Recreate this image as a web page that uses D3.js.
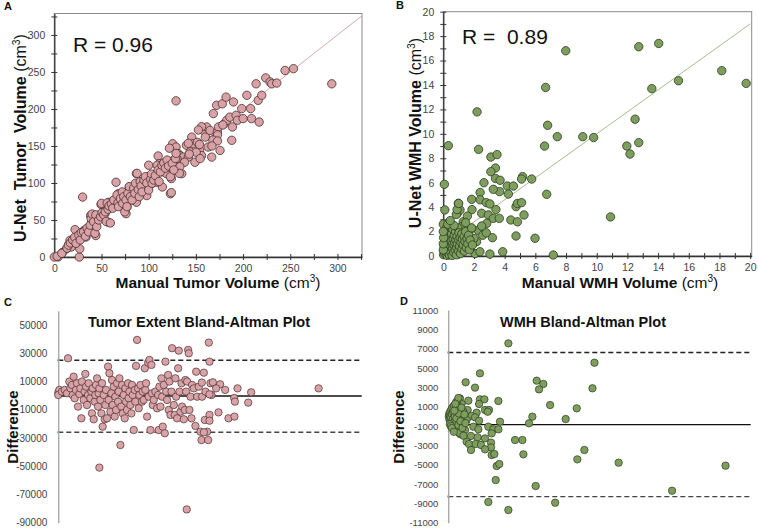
<!DOCTYPE html>
<html>
<head>
<meta charset="utf-8">
<script src="https://cdn.jsdelivr.net/npm/d3@7"></script>
<style>
  body { margin: 0; background: #fff; }
  svg { font-family: "Liberation Sans", Arial, sans-serif; }
</style>
</head>
<body>
<svg id="fig" width="758" height="528"></svg>
<script>
// ---- Panel A: manual vs U-Net tumor volume (cm3) ----
const tumorScatter = [
  [0,0],[4,0],[8.5,6],[13,11],[15,16],[16.6,22.5],[18,13.5],[21,20],[22,37],[23.7,22.5],[26.5,0],[27,11],[30,81],[29,29],
  [31.5,36],[33.5,27],[36,37],[38.5,56],[39.6,47],[41,36],[44,29],[45,50],[47.7,54],[49.5,71],[53.7,58.5],[55.5,71],[57,47],
  [58,74],[62.5,67.5],[65.4,101],[67,76.5],[68,85.5],[71,79],[74,85.5],[76,58.5],[77,67.5],[78,76.5],[79.5,94.6],[82,88],
  [83.7,76.5],[86.6,83],[87,112.6],[87,74],[90,97],[91,88],[93.6,99],[96,90],[98,83],[98,108],[99.6,94.6],[103,99],[104,106],
  [108.5,101],[110,136.5],[111,126],[114,115],[114.5,94.6],[117,124],[119,112.6],[121,121.6],[123,85.5],[124,106],[125.4,153],
  [126,130.6],[129,211],[129,148.6],[129.7,117],[131.4,139.6],[133,137],[135,112.6],[136.7,135],[140,151],[142,135],[143.8,142],
  [145.6,162],[147,153],[149,128],[151.6,155],[154,144],[156,137],[158,171],[160,162],[161.5,175.7],[163,148.6],[165,171],
  [166.8,135],[168.5,193.7],[170,160],[172,205],[172.8,169],[174,175.7],[175.6,144],[178,207],[180,180],[182,216],[182.7,184.7],
  [186,189],[188,157.7],[188.7,175.7],[189.8,209.5],[192.6,191.4],[194,184.7],[198.6,200.5],[200,187],[204,218.5],[208,200.5],
  [209,187],[213.8,234],[216,211.7],[217,182.4],[219.8,218.5],[224,242],[228.6,236.5],[230.4,234],[235.7,235],[244.5,252],
  [253.4,254.5],[294,234],
  [178.6,178.4],[172.9,165],[156,176],[152.7,171.6],[142,153.6],[153.8,152],[168,158],[172.9,156.8],[167,150],[150.3,141.5],
  [122,147],[143,139],[138,128],[154.5,133],[119,127],[130,133],[126,120],[133,122],[132.6,113],[100,124],
  [3,1],[8,5],[13.5,12],[15,16],[17,19],[19.5,23],[21.6,26.6],[23,18.5],[26,30],[27.5,23],[28.6,33],[31,34],[33,28],
  [34.7,39],[36.4,34],[38,43],[39,52],[40,58],[41.7,47.7],[43,32],[44,57],[45,41],[47,50],[49,54.5],[50,72.5],[50.6,60],
  [52.4,57],[54,61],[55,48],[56,73],[57,64.5],[58,69],[59.4,46],[60.5,71.6],[62,66],[63,77],[66.5,84],[67.5,73],[68,68],
  [70,79],[72,88],[72.5,72.5],[73.6,81.5],[74.7,61],[76,77],[77,68],[78,86],[79.5,95],[80.6,81.5],[82.4,77],[84,93],
  [85.3,86],[86,99.6],[87.7,113],[89,91],[90,81.5],[91,102],[92,96],[93,88],[95,104],[96.5,108.5],[98,100],[100,90.5],
  [102,105],[103,112],[103.6,99.6],[105.4,104],[107,110],[109,124],[110,117.6],[111,102],[112.4,115],[114,124],[116,127],
  [117.7,120],[119.5,131],[121,123],[123,108.5],[124,87],[125,126.6],[126.6,117.6],[128.3,133],[129,140]
];

// ---- Panel B: manual vs U-Net WMH volume (cm3) ----
const wmhScatter = [
  [0.07,5.87],[0.1,3.77],[0.33,9.03],[0.0,2.6],[2.2,11.8],[2.3,8.73],[3.1,8.1],[3.5,8.3],[3.4,7.2],[3.1,6.9],[2.65,6.0],
  [3.4,6.35],[3.7,6.2],[3.67,5.27],[3.26,5.46],[2.4,5.2],[4.17,5.73],[4.57,5.73],[4.24,5.07],[5.17,6.5],[5.1,6.3],[5.76,6.3],
  [1.85,4.64],[2.4,4.6],[2.8,4.37],[3.04,4.26],[1.87,3.8],[2.5,3.5],[2.93,3.36],[3.43,3.8],[3.26,3.08],[3.65,3.08],[4.4,2.95],
  [4.74,4.04],[4.83,4.3],[5.1,4.37],[5.26,3.36],[4.83,2.8],[4.74,1.64],[5.98,1.45],[6.74,5.05],[6.67,13.8],[6.6,9.0],[6.8,10.7],
  [7.43,9.77],[7.98,16.8],[7.17,0.08],[9.09,9.77],[9.8,9.7],[10.9,3.2],[11.96,9.0],[12.17,8.35],[12.5,11.2],[12.74,9.28],
  [12.74,17.13],[13.59,13.7],[14.04,17.4],[15.33,14.35],[18.15,15.17],[19.74,14.13],[3.87,0.35],[3.04,0.16],[3.2,1.5],
  [2.17,1.17],[2.07,0.2],[2.39,0.35],[2.28,2.1],[2.57,1.7],[2.8,1.9],[1.85,2.26],[2.0,1.45],[1.74,0.55],[2.83,2.67],[2.5,2.45],
  [1.57,1.36],[1.41,0.76],[1.3,2.8],[1.2,2.4],[1.09,2.0],[0.91,0.22],[0.98,4.31],[0.91,3.49],[1.09,3.77],[1.57,3.27],[1.46,2.73],
  [0.02,0.1],[0.05,0.4],[0.05,0.8],[0.08,1.2],[0.1,0.2],[0.1,1.6],[0.12,0.6],[0.15,1.0],[0.15,1.9],[0.18,0.3],[0.2,0.8],
  [0.2,1.4],[0.22,2.3],[0.25,0.05],[0.25,0.5],[0.28,1.1],[0.3,1.7],[0.3,0.25],[0.33,0.8],[0.35,1.3],[0.38,2.0],[0.4,0.1],
  [0.4,0.55],[0.42,1.0],[0.45,1.5],[0.48,2.4],[0.5,0.3],[0.5,0.8],[0.52,1.2],[0.55,1.8],[0.58,0.05],[0.6,0.6],[0.6,1.0],
  [0.62,2.2],[0.65,1.4],[0.68,0.3],[0.7,0.85],[0.72,1.7],[0.75,1.1],[0.78,0.5],[0.8,2.0],[0.82,1.3],[0.85,0.1],[0.88,0.7],
  [0.9,1.6],[0.92,1.0],[0.95,2.3],[1.0,0.4],[1.0,1.3],[1.02,1.9],[1.05,0.8],[1.1,1.5],[1.12,0.2],[1.15,1.1],[1.2,1.8],
  [1.22,0.6],[1.25,1.35],[1.3,0.9],[1.35,1.6],[1.38,0.4],[1.42,1.2],[1.45,2.0],[1.5,0.7],[1.55,1.4],[1.6,1.0],[1.65,1.7],
  [1.7,0.5],[1.75,1.3],[0.3,2.6],[0.7,2.5],[0.0,0.5],[0.0,1.0],[0.02,1.5],[0.0,2.0],[1.85,2.3],[1.9,0.9],[0.85,3.4],
  [0.9,3.8],[1.0,4.3],[0.45,2.9]
];
const wmhFitSlope = 0.9;
const wmhFitIntercept = 1.0;

// ---- Panel C: tumor Bland-Altman (mean in cm3, difference in mm3) ----
const tumorDiff = [
  [0,2100],[1,4000],[0,400],[3.6,2800],[6.3,4000],[8.6,1600],[9.6,26400],[10.9,9900],[11.9,5100],[13.5,7500],[14.2,400],
  [15.2,13400],[16.2,-1900],[17.5,4000],[18.5,8700],[19.5,-7800],[20.8,1100],[21.8,5100],[22.8,-16100],[23.4,9900],
  [25.1,-3100],[26.1,2800],[26.7,15300],[27.4,6300],[28.4,-6700],[29.4,400],[30,8700],[31.7,-1900],[32.7,2800],[33.3,-12600],
  [34,5100],[35,-16800],[36,-4300],[36.6,400],[37.3,7500],[38.3,12200],[39.3,-7800],[39.9,1600],[40.6,5100],[41.6,-3100],
  [42.6,-12600],[43.2,8700],[43.9,-22000],[44.9,400],[45.9,-16800],[46.5,-6700],[47.2,4000],[48.2,-16100],[49.2,20500],
  [49.8,-3100],[50.5,15800],[51.5,-11400],[52.5,1600],[53.1,11000],[53.8,-6700],[54.8,6300],[55.8,-14900],[56.4,-800],
  [57.1,-10200],[58.1,8700],[59.1,-4300],[59.7,2800],[60.4,12200],[61.4,-35000],[62.4,-7800],[63,7500],[63.7,-12600],
  [64.7,400],[65.7,-16100],[66.3,5100],[67,-4300],[68,-10200],[69,8700],[69.6,-1900],[70.3,2800],[71.3,-6700],[72.3,-12600],
  [72.9,7500],[73.6,400],[74.6,-24400],[75.6,4000],[76.2,-4300],[76.9,21000],[77.9,39400],[78.9,5100],[79.5,-9000],
  [80.2,400],[81.2,7500],[82.8,-4300],[83.5,2800],[84.5,-3100],[85.5,19300],[86.1,4000],[86.8,8700],[87.8,-14900],
  [88.8,23300],[89.4,-800],[90.1,25200],[91.1,-24400],[92.1,21700],[92.7,1600],[93.4,-6700],[94.4,-3100],[96,2800],
  [97.7,-9000],[98.7,400],[99.3,-24400],[100,6300],[101,-7800],[102,12200],[102.6,-800],[103.3,-22000],[104.3,7500],
  [105.3,-26700],[105.9,24000],[106.6,2800],[107.6,-3100],[108.6,14600],[109.2,-10200],[109.9,9900],[110.9,-13700],
  [111.9,2800],[112.5,33500],[114.2,-6700],[115.2,-13700],[115.8,12200],[116.5,-800],[117.5,-16100],[118.5,19300],
  [119.1,31800],[119.8,2800],[120.8,-11400],[121.8,8700],[122.4,-7800],[124.1,-16800],[125.1,-10200],[125.7,11000],
  [126.4,2800],[127.4,9900],[128.4,32300],[129,29900],[129.7,-10200],[130.7,-800],[131.7,-16100],[132.3,7500],[134,5100],
  [135.6,-21500],[136.3,16900],[137.3,-800],[138.9,6300],[140.6,-25600],[141.6,-31500],[142.2,-800],[143.9,16200],
  [144.9,-17300],[145.5,2800],[147.2,-25600],[148.2,-31500],[148.8,37500],[149.5,-13700],[150.5,8700],[151.5,400],
  [40.6,-51000],[127,-80600],[149.5,24000],[141.9,9200],[152.8,9400],[160,8000],[156,5100],[165,4000],[149.5,900],
  [177.2,5100],[190.7,2300],[173.9,-1700],[174.6,-4300],[187.8,-5000],[158.4,-11900],[149.5,-17800],[168.3,-16100],
  [174.2,-14900],[144,-26000],[257.4,5100]
];
const tumorMean = -300;
const tumorUpper = 25000;
const tumorLower = -26000;
const tumorDiffTicks = [50000, 30000, 10000, -10000, -30000, -50000, -70000, -90000];

// ---- Panel D: WMH Bland-Altman ----
const wmhDiff = [
  [5.96,7550],[3.14,4450],[1.72,3520],[2.65,2970],[8.77,3690],[9.43,3350],[9.0,2790],[10.1,1170],[1.16,1860],[0.99,1690],
  [1.99,1620],[3.14,1760],[3.58,1760],[4.97,1590],[1.32,1280],[0.66,1170],[3.05,1280],[3.64,660],[4.04,660],[3.91,480],
  [2.81,380],[1.92,660],[1.49,480],[0.33,660],[0.93,310],[2.32,40],[2.65,-100],[1.82,-380],[1.26,-310],[3.05,-450],
  [5.13,-550],[8.34,-30],[8.01,-720],[11.65,-280],[3.97,-1070],[4.47,-1340],[4.97,-1340],[2.48,-1070],[1.66,-1410],
  [1.06,-1410],[0.66,-1070],[1.16,-1830],[2.98,-1340],[4.3,-1760],[2.25,-2030],[2.91,-2170],[3.64,-2280],[6.62,-2450],
  [7.35,-2450],[1.82,-2620],[2.05,-2860],[2.71,-2860],[3.24,-2960],[4.24,-2720],[4.24,-3210],[3.64,-3410],[2.25,-3480],
  [4.3,-4000],[4.57,-3900],[7.45,-3930],[4.8,-5140],[5.06,-4930],[4.7,-6590],[8.67,-7210],[3.97,-8860],[10.6,-8930],
  [5.96,-9690],[14.5,5550],[14.3,2900],[12.74,830],[12.8,-4450],[13.5,-3480],[16.9,-4790],[22.2,-7690],[27.5,-5100],
  [0.05,0],[0.1,300],[0.1,-300],[0.15,100],[0.2,500],[0.2,-500],[0.25,-100],[0.3,700],[0.3,-700],[0.35,200],[0.4,-900],
  [0.4,900],[0.45,-300],[0.5,400],[0.5,-1100],[0.55,1100],[0.6,-600],[0.65,0],[0.7,-1300],[0.75,700],[0.8,-200],
  [0.85,-1500],[0.9,1200],[1.0,-900],[1.05,300],[1.1,-1700],[1.2,-500],[1.3,900],[1.4,-1200],[1.5,-2000],[1.6,200],
  [1.7,-700],[0.15,-800],[0.25,-1000],[0.35,-1200],[0.55,-1600],[0.6,600],[0.8,1500],[1.0,1900],[0.7,1300]
];
const wmhMean = -850;
const wmhUpper = 6600;
const wmhLower = -8300;
const wmhDiffTicks = [11000, 9000, 7000, 5000, 3000, 1000, -1000, -3000, -5000, -7000, -9000, -11000];

const svg = d3.select('#fig');

const pink = { fill: '#d9a2a6', stroke: '#4a2f30' };
const green = { fill: '#7e9e5e', stroke: '#2c3b1f' };

// Writes "(cm3)" with a raised 3 after a bold label
function unitLabel(text, boldPart) {
  text.append('tspan').attr('font-weight', 'bold').text(boldPart);
  text.append('tspan').attr('font-weight', 'normal').text(' (cm');
  text.append('tspan').attr('font-weight', 'normal').attr('font-size', '0.65em').attr('dy', '-0.55em').text('3');
  text.append('tspan').attr('font-weight', 'normal').attr('dy', '0.36em').text(')');
}

function scatterPanel(cfg) {
  const x = d3.scaleLinear().domain(cfg.xDomain).range([cfg.left, cfg.right]);
  const y = d3.scaleLinear().domain(cfg.yDomain).range([cfg.bottom, cfg.top]);
  const g = svg.append('g');

  // Frame (top / right sides are lighter)
  g.append('rect')
    .attr('x', cfg.left).attr('y', cfg.top)
    .attr('width', cfg.right - cfg.left).attr('height', cfg.bottom - cfg.top)
    .attr('fill', 'none').attr('stroke', '#8a8a8a').attr('stroke-width', 1);

  // Fit / identity line
  g.append('line')
    .attr('x1', x(cfg.fitFrom)).attr('y1', y(cfg.slope * cfg.fitFrom + cfg.intercept))
    .attr('x2', x(cfg.fitTo)).attr('y2', y(cfg.slope * cfg.fitTo + cfg.intercept))
    .attr('stroke', cfg.lineColor).attr('stroke-width', 1);

  // Axes
  const xAxis = g.append('g')
    .attr('transform', `translate(0,${cfg.bottom})`)
    .call(d3.axisBottom(x).tickValues(cfg.xTicks)
      .tickFormat(d => (Math.round(d / cfg.xLabelStep * 1000) % 1000 === 0 ? d : ''))
      .tickSizeOuter(0).tickSizeInner(3).tickPadding(5));
  const yAxis = g.append('g')
    .attr('transform', `translate(${cfg.left},0)`)
    .call(d3.axisLeft(y).tickValues(cfg.yTicks)
      .tickFormat(d => (Math.round(d / cfg.yLabelStep * 1000) % 1000 === 0 ? d : ''))
      .tickSizeOuter(0).tickSizeInner(3).tickPadding(cfg.yPad));

  [xAxis, yAxis].forEach(ax => {
    ax.attr('font-family', null).attr('font-size', null);
    ax.select('.domain').attr('stroke', '#333').attr('stroke-width', 1.3);
    ax.selectAll('.tick line').attr('stroke', '#333');
    ax.selectAll('.tick text').attr('font-size', 10.5).attr('fill', '#444');
  });
  xAxis.selectAll('.tick line').attr('y1', -3).attr('y2', 3);
  yAxis.selectAll('.tick line').attr('x1', -3).attr('x2', 3);

  // Points
  g.selectAll('circle.pt')
    .data(cfg.data)
    .join('circle')
    .attr('class', 'pt')
    .attr('cx', d => x(d[0]))
    .attr('cy', d => y(d[1]))
    .attr('r', 4.2)
    .attr('fill', cfg.color.fill)
    .attr('stroke', cfg.color.stroke)
    .attr('stroke-width', 0.8);

  // Axis titles
  const xt = g.append('text')
    .attr('x', cfg.xTitleX).attr('y', 288)
    .attr('text-anchor', 'middle').attr('font-size', 15.5).attr('fill', '#111');
  unitLabel(xt, cfg.xTitle);

  const yt = g.append('text')
    .attr('transform', `translate(${cfg.yTitleX},${cfg.yTitleY}) rotate(-90)`)
    .attr('text-anchor', 'middle').attr('font-size', 16).attr('fill', '#111')
    .style('white-space', 'pre');
  unitLabel(yt, cfg.yTitle);

  // Correlation label
  g.append('text')
    .attr('x', cfg.rX).attr('y', cfg.rY)
    .attr('font-size', 21).attr('fill', '#111')
    .style('white-space', 'pre')
    .text(cfg.rText);
}

function blandAltmanPanel(cfg) {
  const x = d3.scaleLinear().domain(cfg.xDomain).range([cfg.left, cfg.right]);
  const y = d3.scaleLinear().domain(cfg.yDomain).range([cfg.bottom, cfg.top]);
  const g = svg.append('g');

  // Plain hyphen-minus labels, no thousands separators
  const yAxis = g.append('g')
    .attr('transform', `translate(${cfg.left},0)`)
    .call(d3.axisLeft(y).tickValues(cfg.ticks).tickFormat(d => String(d))
      .tickSize(0).tickPadding(cfg.tickPad));
  yAxis.attr('font-family', null).attr('font-size', null);
  yAxis.select('.domain').attr('stroke', '#888').attr('stroke-width', 1);
  yAxis.selectAll('.tick text').attr('font-size', cfg.tickSize).attr('fill', '#444');

  // Mean and limits of agreement
  g.append('line')
    .attr('x1', x(cfg.xDomain[0])).attr('x2', x(cfg.xDomain[1]))
    .attr('y1', y(cfg.mean)).attr('y2', y(cfg.mean))
    .attr('stroke', '#111').attr('stroke-width', 1.3);
  [[cfg.upper, '#222'], [cfg.lower, '#444']].forEach(([v, c]) => {
    g.append('line')
      .attr('x1', x(cfg.xDomain[0])).attr('x2', x(cfg.xDomain[1]))
      .attr('y1', y(v)).attr('y2', y(v))
      .attr('stroke', c).attr('stroke-width', 1.4).attr('stroke-dasharray', '5,3');
    g.append('circle')
      .attr('cx', x(cfg.xDomain[0])).attr('cy', y(v)).attr('r', 1.3).attr('fill', '#8fa6c8');
  });

  g.selectAll('circle.pt')
    .data(cfg.data)
    .join('circle')
    .attr('class', 'pt')
    .attr('cx', d => x(d[0]))
    .attr('cy', d => y(d[1]))
    .attr('r', 3.7)
    .attr('fill', cfg.color.fill)
    .attr('stroke', cfg.color.stroke)
    .attr('stroke-width', 0.7);

  g.append('text')
    .attr('x', cfg.titleX).attr('y', 327)
    .attr('text-anchor', 'middle').attr('font-size', 14.5).attr('font-weight', 'bold').attr('fill', '#111')
    .text(cfg.title);

  g.append('text')
    .attr('transform', `translate(${cfg.labelX},427) rotate(-90)`)
    .attr('text-anchor', 'middle').attr('font-size', 15).attr('font-weight', 'bold').attr('fill', '#111')
    .text('Difference');
}

scatterPanel({
  data: tumorScatter, color: pink,
  xDomain: [0, 326], yDomain: [0, 329],
  left: 54.3, right: 362, top: 13.5, bottom: 257,
  xTicks: d3.range(0, 326, 25), xLabelStep: 50,
  yTicks: d3.range(0, 329, 25), yLabelStep: 50, yPad: 6,
  slope: 1, intercept: 0, fitFrom: 0, fitTo: 326, lineColor: '#dcaaaa',
  xTitle: 'Manual Tumor Volume', xTitleX: 218,
  yTitle: 'U-Net  Tumor  Volume', yTitleX: 26, yTitleY: 138,
  rText: 'R = 0.96', rX: 73, rY: 52
});

scatterPanel({
  data: wmhScatter, color: green,
  xDomain: [0, 20.1], yDomain: [0, 20],
  left: 443.3, right: 751.7, top: 11.7, bottom: 256,
  xTicks: d3.range(0, 20.1, 1), xLabelStep: 2,
  yTicks: d3.range(0, 20.1, 1), yLabelStep: 2, yPad: 6,
  slope: wmhFitSlope, intercept: wmhFitIntercept, fitFrom: 0.6, fitTo: 20, lineColor: '#a7bd8c',
  xTitle: 'Manual WMH Volume', xTitleX: 620,
  yTitle: 'U-Net WMH Volume', yTitleX: 421, yTitleY: 133,
  rText: 'R =  0.89', rX: 462, rY: 44
});

blandAltmanPanel({
  data: tumorDiff, color: pink,
  xDomain: [0, 300], yDomain: [-90000, 60000],
  left: 58.3, right: 361.7, top: 310.8, bottom: 522.7,
  ticks: tumorDiffTicks, tickPad: 11, tickSize: 10,
  mean: tumorMean, upper: tumorUpper, lower: tumorLower,
  title: 'Tumor Extent Bland-Altman Plot', titleX: 199, labelX: 18
});

blandAltmanPanel({
  data: wmhDiff, color: green,
  xDomain: [0, 30], yDomain: [-11000, 11000],
  left: 448.3, right: 750.7, top: 310, bottom: 522.7,
  ticks: wmhDiffTicks, tickPad: 10, tickSize: 9.5,
  mean: wmhMean, upper: wmhUpper, lower: wmhLower,
  title: 'WMH Bland-Altman Plot', titleX: 583, labelX: 404
});

// Panel letters
[['A', 4, 10], ['B', 396, 9], ['C', 4, 306], ['D', 400, 305]].forEach(([t, lx, ly]) => {
  svg.append('text').attr('x', lx).attr('y', ly)
    .attr('font-size', 11).attr('font-weight', 'bold').attr('fill', '#111').text(t);
});
</script>
</body>
</html>
